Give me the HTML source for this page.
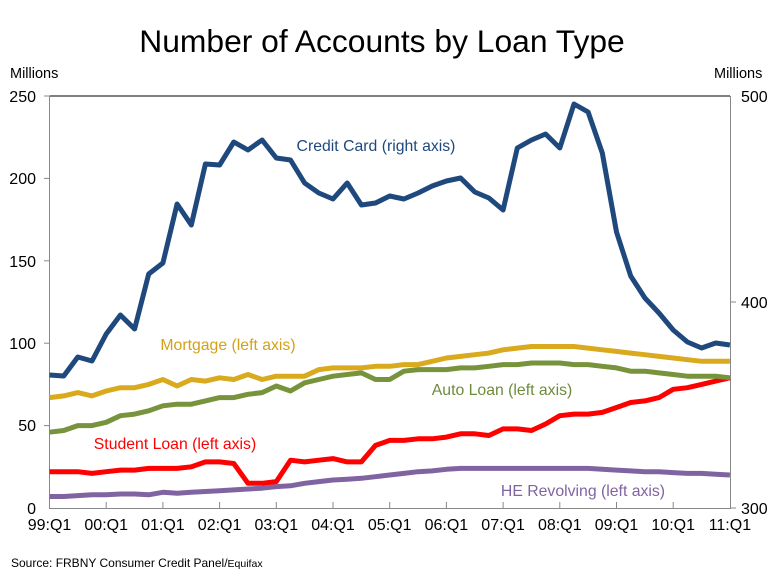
<!DOCTYPE html>
<html><head><meta charset="utf-8"><style>
body{margin:0;background:#fff;}
svg{display:block;font-family:"Liberation Sans",Arial,sans-serif;}
</style></head><body>
<svg id="s" width="777" height="581" viewBox="0 0 777 581" xmlns="http://www.w3.org/2000/svg">
<text x="382" y="52" font-size="31.8" text-anchor="middle" fill="#000">Number of Accounts by Loan Type</text>
<text x="10" y="78" font-size="14.5" fill="#000">Millions</text>
<text x="714" y="78" font-size="14.5" fill="#000">Millions</text>
<line x1="49.5" y1="96" x2="730" y2="96" stroke="#000" stroke-width="1"/>
<line x1="49.5" y1="96" x2="49.5" y2="508" stroke="#888" stroke-width="1"/>
<line x1="730.5" y1="96" x2="730.5" y2="508" stroke="#888" stroke-width="1"/>
<line x1="49" y1="508.5" x2="731" y2="508.5" stroke="#888" stroke-width="1"/>
<g id="g"></g>
<g font-size="16" fill="#000" text-anchor="end">
<text x="36" y="102">250</text><text x="36" y="184">200</text><text x="36" y="267">150</text>
<text x="36" y="349">100</text><text x="36" y="431">50</text><text x="36" y="514">0</text>
</g>
<g font-size="16" fill="#000">
<text x="741" y="102">500</text><text x="741" y="308">400</text><text x="741" y="514">300</text>
</g>
<g font-size="16" fill="#000" text-anchor="middle" id="xl"></g>
<text x="11" y="567" font-size="12" fill="#000">Source: FRBNY Consumer Credit Panel/<tspan font-size="10.5">Equifax</tspan></text>
<g font-size="15.8">
<text x="376" y="151" text-anchor="middle" fill="#1F497D">Credit Card (right axis)</text>
<text x="228" y="350" text-anchor="middle" fill="#D4A017">Mortgage (left axis)</text>
<text x="502" y="395" text-anchor="middle" fill="#6E8B3D">Auto Loan (left axis)</text>
<text x="175" y="449" text-anchor="middle" fill="#FF0000">Student Loan (left axis)</text>
<text x="583" y="496" text-anchor="middle" fill="#8064A2">HE Revolving (left axis)</text>
</g>
</svg>
<script>
var NS="http://www.w3.org/2000/svg",g=document.getElementById('g'),xl=document.getElementById('xl');
function X(i){return 49.5+14.175*i;}
function Y(v){return 508-1.648*v;}
var yrs=["99","00","01","02","03","04","05","06","07","08","09","10","11"];
for(var k=0;k<13;k++){var x=X(k*4);
 if(k>0&&k<12){var l=document.createElementNS(NS,'line');l.setAttribute('x1',x);l.setAttribute('x2',x);l.setAttribute('y1',502);l.setAttribute('y2',508);l.setAttribute('stroke','#888');g.appendChild(l);}
 var t=document.createElementNS(NS,'text');t.setAttribute('x',x);t.setAttribute('y',530);t.textContent=yrs[k]+":Q1";xl.appendChild(t);}
[96,178.4,260.8,343.2,425.6].forEach(function(y){var l=document.createElementNS(NS,'line');l.setAttribute('x1',44);l.setAttribute('x2',50);l.setAttribute('y1',y);l.setAttribute('y2',y);l.setAttribute('stroke','#888');g.appendChild(l);});
[302,508].forEach(function(y){var l=document.createElementNS(NS,'line');l.setAttribute('x1',730);l.setAttribute('x2',736);l.setAttribute('y1',y);l.setAttribute('y2',y);l.setAttribute('stroke','#888');g.appendChild(l);});
function line(d,c,px){var p=d.map(function(v,i){return X(i).toFixed(1)+","+(px?v:Y(v)).toFixed(1);}).join(" ");
 var e=document.createElementNS(NS,'polyline');e.setAttribute('points',p);e.setAttribute('fill','none');e.setAttribute('stroke',c);e.setAttribute('stroke-width','5');e.setAttribute('stroke-linejoin','round');g.appendChild(e);}
line([7,7,7.5,8,8,8.5,8.5,8,9.5,9,9.5,10,10.5,11,11.5,12,13,13.5,15,16,17,17.5,18,19,20,21,22,22.5,23.5,24,24,24,24,24,24,24,24,24,24,23.5,23,22.5,22,22,21.5,21,21,20.5,20],"#8064A2");
line([22,22,22,21,22,23,23,24,24,24,25,28,28,27,15,15,16,29,28,29,30,28,28,38,41,41,42,42,43,45,45,44,48,48,47,51,56,57,57,58,61,64,65,67,72,73,75,77,79],"#FF0000");
line([46,47,50,50,52,56,57,59,62,63,63,65,67,67,69,70,74,71,76,78,80,81,82,78,78,83,84,84,84,85,85,86,87,87,88,88,88,87,87,86,85,83,83,82,81,80,80,80,79],"#77933C");
line([67,68,70,68,71,73,73,75,78,74,78,77,79,78,81,78,80,80,80,84,85,85,85,86,86,87,87,89,91,92,93,94,96,97,98,98,98,98,97,96,95,94,93,92,91,90,89,89,89],"#DAAA1E");
line([375,376,357,361,334,315,329,274,263,204,225,164,165,142,150,140,158,160,183,193,199,183,205,203,196,199,193,186,181,178,192,198,210,148,140,134,148,104,112,153,232,276,298,313,330,342,348,343,345],"#1F497D",true);
</script>
</body></html>
